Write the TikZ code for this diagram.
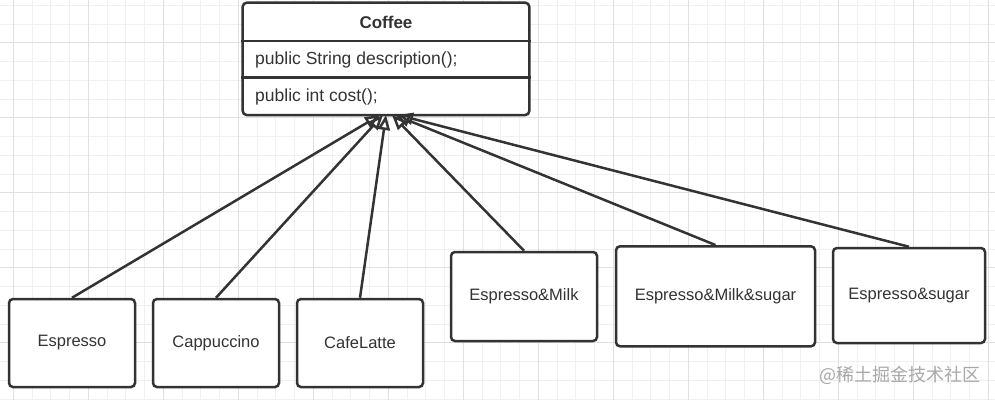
\documentclass[tikz,border=0pt]{standalone}
\usepackage{fontspec}
\setmainfont{Liberation Sans}
\newfontfamily\cjk{Noto Sans CJK SC}
\usetikzlibrary{arrows.meta}
\definecolor{ink}{HTML}{333333}
\definecolor{gridminor}{HTML}{F0F0F0}
\definecolor{gridmajor}{HTML}{E0E0E0}
\definecolor{wm}{HTML}{A8A8A8}
\tikzset{
  classbox/.style={draw=ink, line width=2.5pt, rounded corners=4pt, fill=white},
  childbox/.style={draw=ink, line width=2.5pt, rounded corners=4pt, fill=white, inner sep=0pt,
     font=\fontsize{16.5}{18}\selectfont, text=ink},
  divider/.style={draw=ink, line width=2.2pt},
  methodtext/.style={anchor=west, inner sep=0pt, font=\fontsize{17.5}{20}\selectfont, text=ink},
  inh/.style={draw=ink, line width=2.5pt, -{Triangle[open, length=15pt, width=12pt, line width=2.5pt]}},
  gminor/.style={draw=gridminor, line width=0.8pt},
  gmajor/.style={draw=gridmajor, line width=0.9pt}
}
\begin{document}
\begin{tikzpicture}[x=1pt, y=-1pt]
\useasboundingbox (0,0) rectangle (995,400);
\fill[white] (0,0) rectangle (995,400);
% grid
\foreach \i in {0,...,53} {
  \draw[gminor] ({-5.45+18.75*\i},0) -- ({-5.45+18.75*\i},400);
}
\foreach \i in {0,...,21} {
  \draw[gminor] (0,{5.2+18.75*\i}) -- (995,{5.2+18.75*\i});
}
\foreach \i in {0,...,13} {
  \draw[gmajor] ({13.3+75*\i},0) -- ({13.3+75*\i},400);
}
\foreach \i in {0,...,4} {
  \draw[gmajor] (0,{42.7+75*\i}) -- (995,{42.7+75*\i});
}
% Coffee class
\node[classbox, minimum width=286.6pt, minimum height=112.3pt, inner sep=0pt] (coffee) at (386,58.85) {};
\draw[divider] (coffee.west |- 0,40.7) coordinate (d1l) -- (coffee.east |- 0,40.7) coordinate (d1r);
\draw[divider] (coffee.west |- 0,77.5) coordinate (d2l) -- (coffee.east |- 0,77.5) coordinate (d2r);
\node[inner sep=0pt, font=\bfseries\fontsize{17}{20}\selectfont, text=ink] (title) at (386,22) {Coffee};
\node[methodtext] (desc) at (255,59.5) {public String description();};
\node[methodtext] (cost) at (255,96.5) {public int cost();};
% children
\node[childbox, minimum width=126pt, minimum height=88pt] (espresso) at (72,343) {Espresso};
\node[childbox, minimum width=126pt, minimum height=88pt] (cappuccino) at (216,343) {Cappuccino};
\node[childbox, minimum width=126pt, minimum height=88pt] (cafelatte) at (360,343) {CafeLatte};
\node[childbox, minimum width=146pt, minimum height=89pt] (em) at (524,296.5) {Espresso\&Milk};
\node[childbox, minimum width=199pt, minimum height=100pt] (ems) at (715.5,296.3) {Espresso\&Milk\&sugar};
\node[childbox, minimum width=152pt, minimum height=95pt] (es) at (909,295.5) {Espresso\&sugar};
% arrow targets
\coordinate (t1) at (380,115);
\coordinate (t2) at (383,115);
\coordinate (t3) at (386,115);
\coordinate (t4) at (392,115);
\coordinate (t5) at (395,115);
\coordinate (t6) at (398,115);
\draw[inh] (espresso.north) -- (t1);
\draw[inh] (cappuccino.north) -- (t2);
\draw[inh] (cafelatte.north) -- (t3);
\draw[inh] (em.north) -- (t4);
\draw[inh] (ems.north) -- (t5);
\draw[inh] (es.north) -- (t6);
% watermark
\node[inner sep=0pt, text=wm, font=\cjk\fontsize{18}{20}\selectfont] (wmark) at (900,375) {@稀土掘金技术社区};
\end{tikzpicture}
\end{document}
